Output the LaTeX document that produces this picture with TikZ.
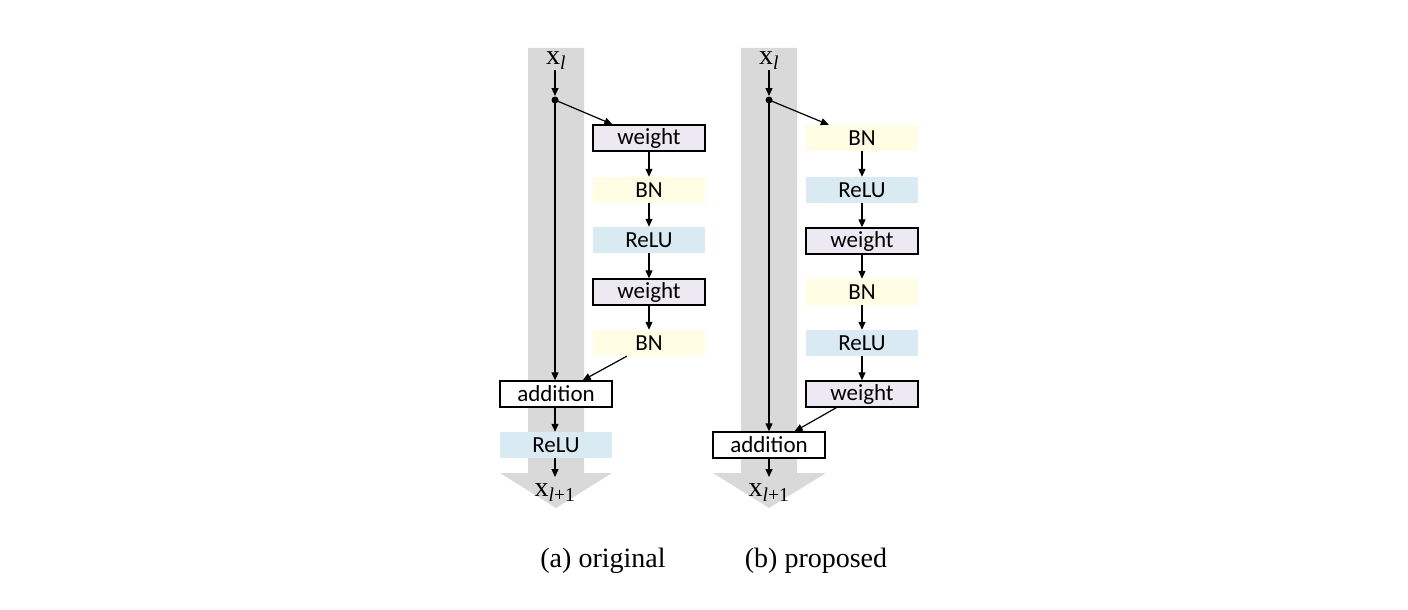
\documentclass[tikz,border=0pt]{standalone}
\usepackage{fontspec}
\setmainfont{Liberation Serif}
\newfontfamily\boxfont{Carlito}
\usetikzlibrary{arrows.meta,calc}
\definecolor{bandgray}{RGB}{217,217,217}
\definecolor{bnyellow}{RGB}{255,253,228}
\definecolor{relublue}{RGB}{218,234,242}
\definecolor{weightfill}{RGB}{236,233,243}
\tikzset{
  blk/.style={minimum width=112pt,minimum height=26pt,inner sep=0pt,font=\boxfont\fontsize{23}{25}\selectfont},
  wbox/.style={blk,draw=black,line width=1.3pt,fill=weightfill},
  abox/.style={blk,draw=black,line width=1.3pt,fill=white},
  bnbox/.style={blk,fill=bnyellow},
  relubox/.style={blk,fill=relublue},
  conn/.style={line width=1.2pt,-{Triangle[length=8pt,width=7pt]}},
  xlab/.style={inner sep=0pt,font=\fontsize{28}{30}\selectfont},
  captext/.style={inner sep=0pt,font=\fontsize{28}{30}\selectfont},
  band/.style={fill=bandgray,draw=none}
}
\begin{document}
\begin{tikzpicture}[x=1pt,y=-1pt]
\useasboundingbox (0,0) rectangle (1408,610);
% bands
\fill[band] (528,48) -- (584,48) -- (584,473) -- (612,473) -- (556,508) -- (500,473) -- (528,473) -- cycle;
\fill[band] (741,48) -- (797,48) -- (797,473) -- (826,473) -- (769,508) -- (713,473) -- (741,473) -- cycle;
% ---------- (a) original
\node[xlab] (axl) at (556,61) {x\textsubscript{\textit{l}}};
\coordinate (adot) at (555,100);
\fill (adot) circle (3.5pt);
\node[wbox] (aw1) at (649,138) {weight};
\node[bnbox] (abn1) at (649,190) {BN};
\node[relubox] (arelu1) at (649,240) {ReLU};
\node[wbox] (aw2) at (649,292) {weight};
\node[bnbox] (abn2) at (649,343) {BN};
\node[abox] (aadd) at (556,394) {addition};
\node[relubox] (arelu2) at (556,445) {ReLU};
\node[xlab] (axl1) at (555,493) {x\textsubscript{\textit{l}+1}};
\coordinate (axlb) at (555,70);
\coordinate (atip) at (555,96);
\coordinate (aend) at (555,477);
\draw[conn] (axlb) -- (atip);
\draw[conn] (adot) -- ($(aw1.north west)+(20,0)$);
\draw[conn] (aw1) -- (abn1);
\draw[conn] (abn1) -- (arelu1);
\draw[conn] (arelu1) -- (aw2);
\draw[conn] (aw2) -- (abn2);
\draw[conn] (adot) -- (aadd.north -| adot);
\draw[conn] ($(abn2.south west)+(34,0)$) -- ($(aadd.north east)+(-30,0)$);
\draw[conn] (aadd.south -| adot) -- (arelu2.north -| adot);
\draw[conn] (arelu2.south -| adot) -- (aend);
% ---------- (b) proposed
\node[xlab] (bxl) at (769,61) {x\textsubscript{\textit{l}}};
\coordinate (bdot) at (769,100);
\fill (bdot) circle (3.5pt);
\node[bnbox] (bbn1) at (862,138) {BN};
\node[relubox] (brelu1) at (862,190) {ReLU};
\node[wbox] (bw1) at (862,241) {weight};
\node[bnbox] (bbn2) at (862,292) {BN};
\node[relubox] (brelu2) at (862,343) {ReLU};
\node[wbox] (bw2) at (862,394) {weight};
\node[abox] (badd) at (769,445) {addition};
\node[xlab] (bxl1) at (769,493) {x\textsubscript{\textit{l}+1}};
\coordinate (bxlb) at (769,70);
\coordinate (btip) at (769,96);
\coordinate (bend) at (769,477);
\draw[conn] (bxlb) -- (btip);
\draw[conn] (bdot) -- ($(bbn1.north west)+(23,0)$);
\draw[conn] (bbn1) -- (brelu1);
\draw[conn] (brelu1) -- (bw1);
\draw[conn] (bw1) -- (bbn2);
\draw[conn] (bbn2) -- (brelu2);
\draw[conn] (brelu2) -- (bw2);
\draw[conn] (bdot) -- (badd.north -| bdot);
\draw[conn] ($(bw2.south west)+(31,0)$) -- ($(badd.north east)+(-31,0)$);
\draw[conn] (badd.south -| bdot) -- (bend);
% captions
\node[captext] (capa) at (603,561) {(a) original};
\node[captext] (capb) at (816,561) {(b) proposed};
\end{tikzpicture}
\end{document}
